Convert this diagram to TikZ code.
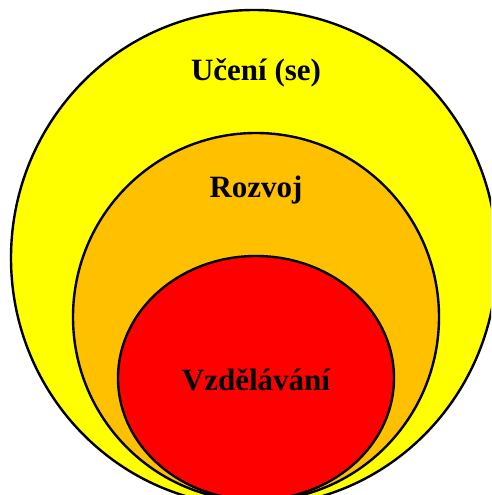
\documentclass[tikz,border=0pt]{standalone}
\usepackage{fontspec}
\setmainfont{Liberation Serif}
\begin{document}
\begin{tikzpicture}[x=1pt,y=-1pt,
  ring/.style={draw=black,line width=2.4pt},
  lbl/.style={font=\fontsize{31}{35}\selectfont\bfseries,text=black,inner sep=0pt}]
\useasboundingbox (0,0) rectangle (491,495);
\clip (0,0) rectangle (491,495);
\path[ring,fill={rgb,255:red,255;green,255;blue,0}] (254,258) ellipse [x radius=243,y radius=248];
\path[ring,fill={rgb,255:red,255;green,192;blue,0}] (256,317) ellipse [x radius=183,y radius=184];
\path[ring,fill={rgb,255:red,255;green,0;blue,0}] (256,378) ellipse [x radius=138,y radius=122];
\node[lbl] (ucen) at (256,73) {Učení (se)};
\node[lbl] (rozvoj) at (256,190) {Rozvoj};
\node[lbl] (vzd) at (256,380) {Vzdělávání};
\end{tikzpicture}
\end{document}
